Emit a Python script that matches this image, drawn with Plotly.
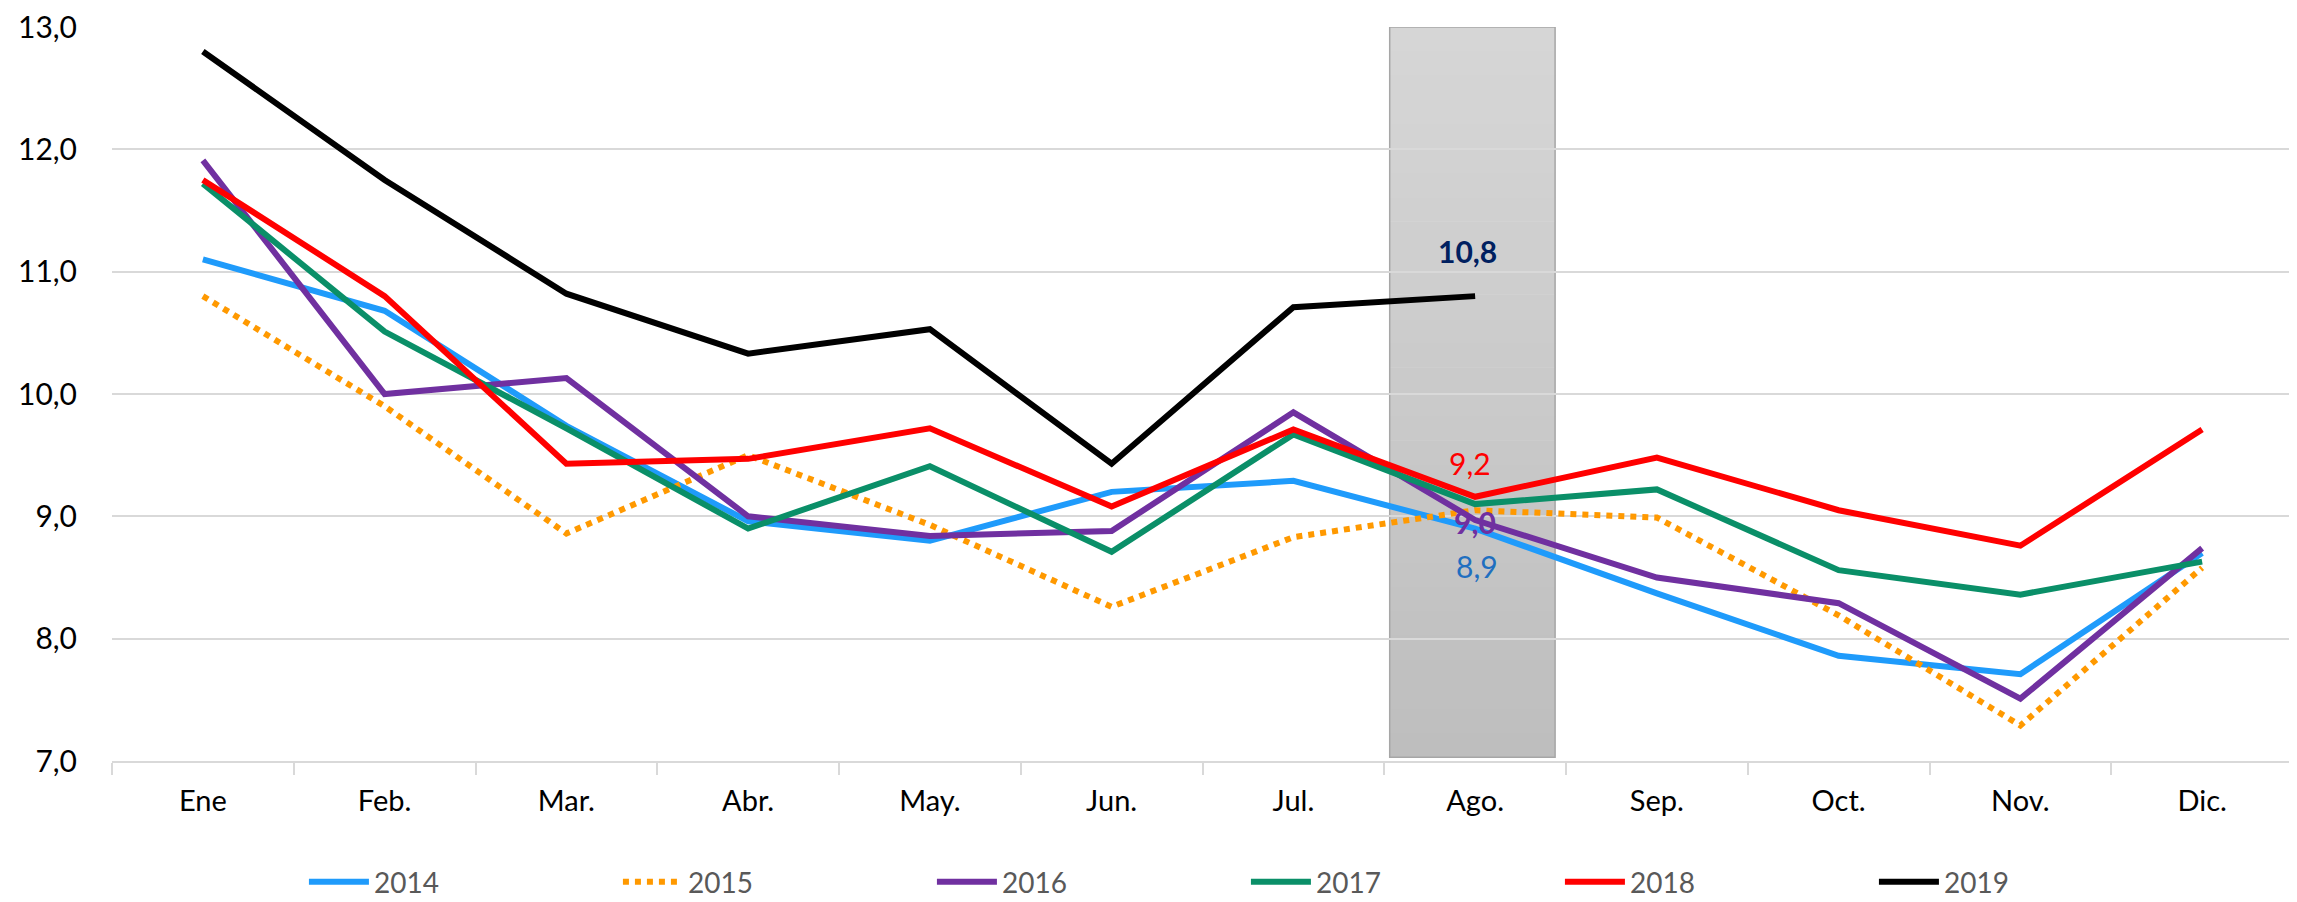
import plotly.graph_objects as go

months = ["Ene", "Feb.", "Mar.", "Abr.", "May.", "Jun.", "Jul.", "Ago.", "Sep.", "Oct.", "Nov.", "Dic."]

v2014 = [11.10, 10.68, 9.74, 8.96, 8.80, 9.20, 9.29, 8.90, 8.37, 7.86, 7.71, 8.70]
v2015 = [10.80, 9.90, 8.86, 9.50, 8.93, 8.26, 8.83, 9.05, 8.99, 8.19, 7.29, 8.58]
v2016 = [11.91, 10.00, 10.13, 9.00, 8.84, 8.88, 9.85, 8.97, 8.50, 8.29, 7.51, 8.74]
v2017 = [11.72, 10.51, 9.72, 8.90, 9.41, 8.71, 9.67, 9.10, 9.22, 8.56, 8.36, 8.63]
v2018 = [11.75, 10.80, 9.43, 9.47, 9.72, 9.08, 9.71, 9.16, 9.48, 9.05, 8.76, 9.71]
v2019 = [12.80, 11.75, 10.82, 10.33, 10.53, 9.43, 10.71, 10.80]

series = [
    ("2014", v2014, "#1F9BFB", "solid"),
    ("2015", v2015, "#FF9900", "dot"),
    ("2016", v2016, "#7030A0", "solid"),
    ("2017", v2017, "#0A8F68", "solid"),
    ("2018", v2018, "#FF0000", "solid"),
    ("2019", v2019, "#000000", "solid"),
]

labels = [
    ("10,8", 10.80, "#002060", True, -8, 45),
    ("9,2", 9.16, "#FF0000", False, -5, 34),
    ("9,0", 8.97, "#7030A0", True, 0, -2),
    ("8,9", 8.90, "#1F6FC0", False, 2, -37),
]

FONT = "Lato, Calibri, 'Open Sans', sans-serif"

fig = go.Figure()
for name, vals, color, dash in series:
    fig.add_trace(go.Scatter(
        x=months[:len(vals)], y=vals, mode="lines", name=name,
        line=dict(color=color, width=6, dash=dash),
    ))

# highlighted band around "Ago." with a vertical gradient
n_bands = 30
y_lo, y_hi = 7.03, 13.0
top_c, bot_c = (214, 214, 214), (190, 190, 190)
for i in range(n_bands):
    t = i / (n_bands - 1)
    c = tuple(int(round(bot_c[k] + (top_c[k] - bot_c[k]) * t)) for k in range(3))
    fig.add_shape(type="rect", xref="x", yref="y", layer="below",
                  x0=6.53, x1=7.44,
                  y0=y_lo + (y_hi - y_lo) * i / n_bands,
                  y1=y_lo + (y_hi - y_lo) * (i + 1) / n_bands + 0.005,
                  fillcolor="rgb(%d,%d,%d)" % c, line=dict(width=0))
fig.add_shape(type="rect", xref="x", yref="y", layer="below",
              x0=6.53, x1=7.44, y0=y_lo, y1=y_hi,
              fillcolor="rgba(0,0,0,0)", line=dict(color="#A6A6A6", width=1.5))

for txt, yv, col, bold, xs, ys in labels:
    fig.add_annotation(x="Ago.", y=yv, text=("<b>%s</b>" % txt) if bold else txt,
                       showarrow=False, xshift=xs, yshift=ys,
                       font=dict(family=FONT, size=30, color=col))

fig.update_layout(
    width=2297, height=902,
    margin=dict(l=104, r=12, t=19, b=149, autoexpand=False),
    plot_bgcolor="white", paper_bgcolor="white",
    separators=",.",
    font=dict(family=FONT, size=29, color="#000000"),
    showlegend=True,
    legend=dict(orientation="h", x=0.088, xanchor="left", y=-0.165, yanchor="middle",
                entrywidth=239, entrywidthmode="pixels", itemwidth=60,
                font=dict(family=FONT, size=28, color="#595959"),
                bgcolor="rgba(0,0,0,0)"),
)
fig.update_xaxes(
    type="category", range=[-0.5, 11.5], automargin=False,
    showline=True, linecolor="#D9D9D9", linewidth=2,
    ticks="outside", tickson="boundaries", ticklen=12, tickcolor="#D9D9D9", tickwidth=2,
    showgrid=False, ticklabelstandoff=13,
    tickfont=dict(family=FONT, size=29, color="#000000"),
)
fig.update_yaxes(
    range=[7, 13], dtick=1, tickformat=".1f", automargin=False,
    ticklabeloverflow="allow",
    showgrid=True, gridcolor="#D9D9D9", gridwidth=2, zeroline=False, showline=False,
    ticklabelstandoff=34,
    tickfont=dict(family=FONT, size=30, color="#000000"),
)

fig.write_html("out.html")
